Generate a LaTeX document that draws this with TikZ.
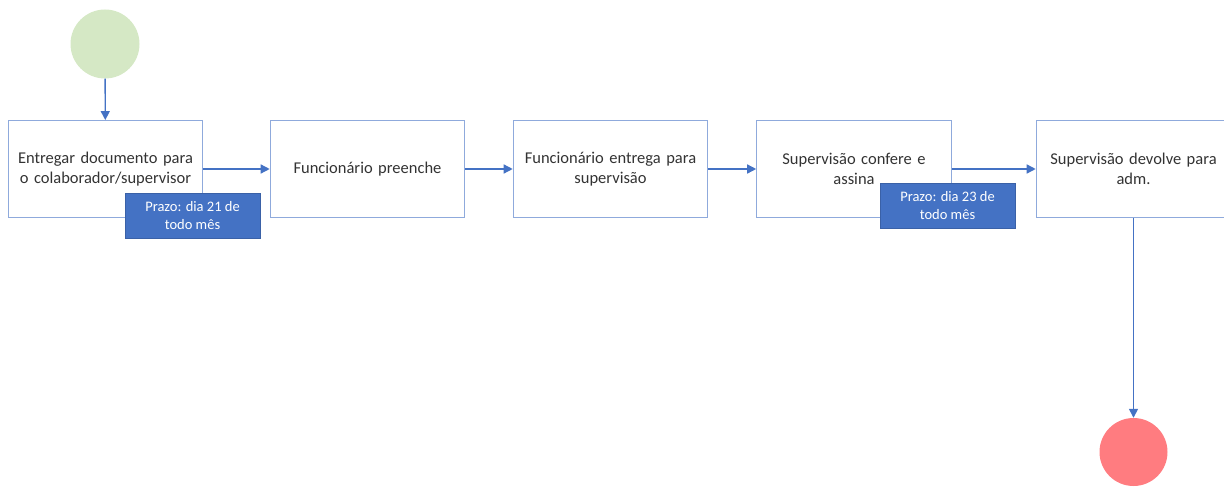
\documentclass[tikz,border=0pt]{standalone}
\usepackage{fontspec}
\setmainfont{Carlito}
\usepackage{tikz}
\usetikzlibrary{arrows.meta}

\definecolor{flowblue}{HTML}{4472C4}
\definecolor{boxline}{HTML}{8FAADC}
\definecolor{startgreen}{HTML}{D5E8C5}
\definecolor{endred}{HTML}{FF7C80}

\begin{document}
\begin{tikzpicture}[x=1pt,y=-1pt,>={Triangle[length=9pt,width=9pt]}]

  \tikzstyle{task}=[rectangle,draw=boxline,line width=0.9pt,fill=white,align=center,
                    minimum width=193pt,minimum height=97pt,text width=188pt,
                    font=\fontsize{16.5}{20}\selectfont,text=black!80]
  \tikzstyle{deadline}=[rectangle,fill=flowblue,draw=flowblue!85!black,very thin,
                        align=center,minimum width=135pt,minimum height=45pt,
                        text=white,font=\fontsize{14.5}{18}\selectfont]
  \tikzstyle{flow}=[->,draw=flowblue,fill=flowblue,line width=1.4pt]

  \useasboundingbox (0,0) rectangle (1224,487);
  \clip (0,0) rectangle (1224,487);

  \node[circle,fill=startgreen,minimum size=69pt,inner sep=0pt] (ini) at (105,44) {};

  \node[task] (E) at (105.5,169) {Entregar documento para\\o colaborador/supervisor};
  \node[task] (FP) at (367.5,169) {Funcionário preenche};
  \node[task] (FE) at (610.5,169) {Funcionário entrega para\\supervisão};
  \node[task] (SC) at (854,169) {Supervisão confere e\\assina};
  \node[task] (SD) at (1133.5,169) {Supervisão devolve para\\adm.};

  \node[circle,fill=endred,minimum size=68pt,inner sep=0pt] (fim) at (1133.5,452) {};

  \draw[flow] (ini) -- (E);
  \draw[flow] (E)   -- (FP);
  \draw[flow] (FP)  -- (FE);
  \draw[flow] (FE)  -- (SC);
  \draw[flow] (SC)  -- (SD);
  \draw[flow] (SD)  -- (fim);

  \node[deadline] (P21) at (192.5,215.5) {Prazo: dia 21 de\\todo mês};
  \node[deadline] (P23) at (947.5,205.5) {Prazo: dia 23 de\\todo mês};
\end{tikzpicture}
\end{document}
